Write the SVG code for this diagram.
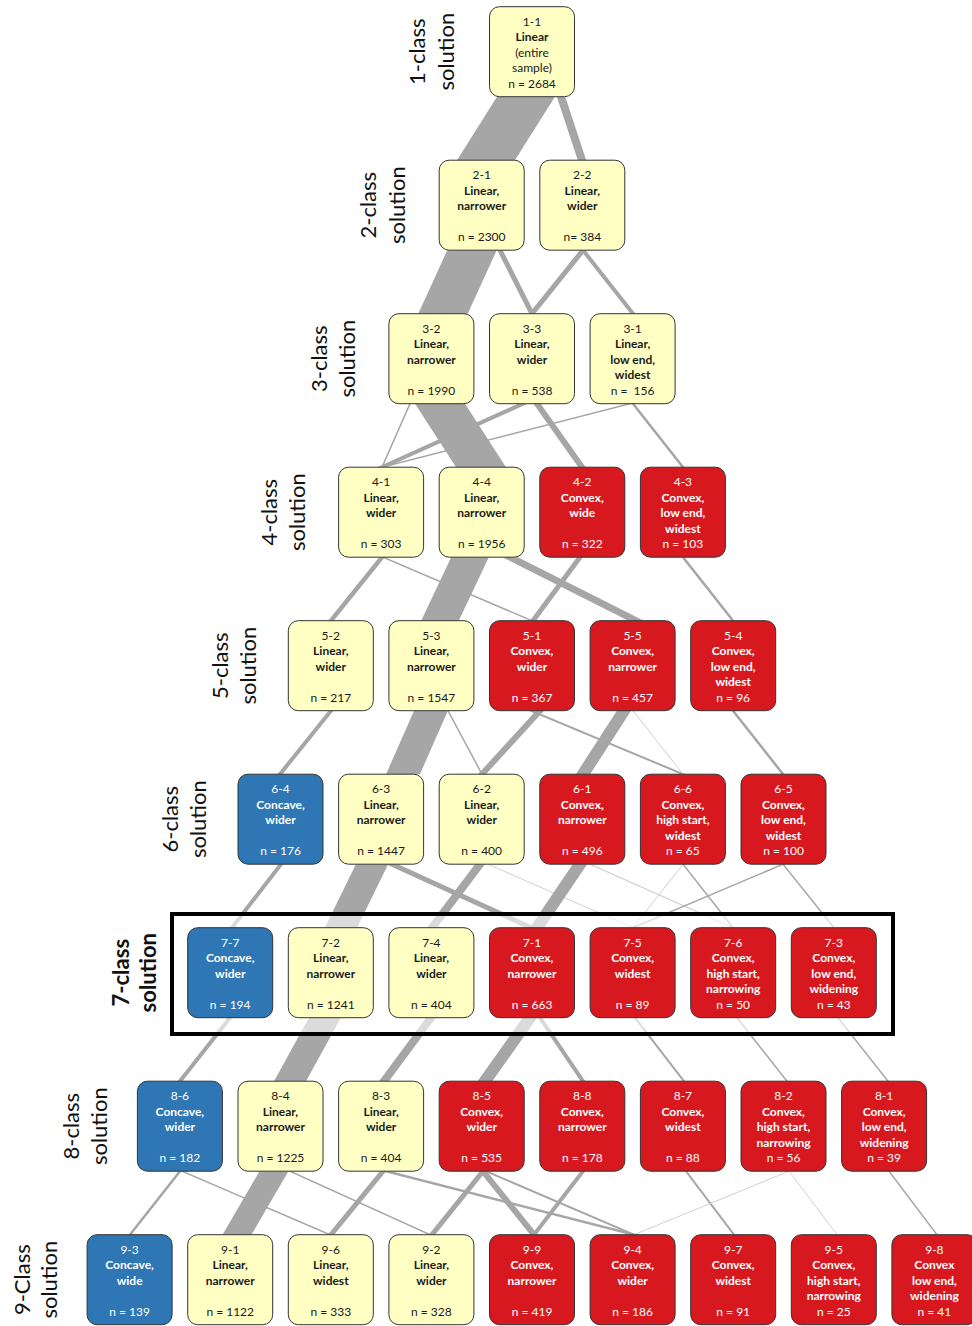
<svg xmlns="http://www.w3.org/2000/svg" width="972" height="1326" viewBox="0 0 972 1326">
<style>
.nd rect{stroke:#333;stroke-width:1}
.y rect{fill:#FFFFC3}.r rect{fill:#D7191F}.b rect{fill:#2E76B4}
text{font-family:Lato,"Liberation Sans",sans-serif;font-size:12px;text-anchor:middle}
.y text{fill:#1a1a1a}.r text,.b text{fill:#fff}
.bd{font-weight:bold}
.lbl{font-size:22px;fill:#111}
.c line{stroke:#A6A6A6}
.c line.lt{stroke:#D0D0D0}
</style>
<defs>
<clipPath id="g1"><rect x="0" y="96.7" width="972" height="63.5"/></clipPath>
<clipPath id="g2"><rect x="0" y="250.2" width="972" height="63.5"/></clipPath>
<clipPath id="g3"><rect x="0" y="403.7" width="972" height="63.5"/></clipPath>
<clipPath id="g4"><rect x="0" y="557.2" width="972" height="63.5"/></clipPath>
<clipPath id="g5"><rect x="0" y="710.7" width="972" height="63.5"/></clipPath>
<clipPath id="g6"><rect x="0" y="864.2" width="972" height="63.5"/></clipPath>
<clipPath id="g7"><rect x="0" y="1017.7" width="972" height="63.5"/></clipPath>
<clipPath id="g8"><rect x="0" y="1171.2" width="972" height="63.5"/></clipPath>
</defs>
<rect width="972" height="1326" fill="#fff"/>
<g id="connectors" class="c">
<g clip-path="url(#g1)">
<line x1="538.6" y1="76.7" x2="473.4" y2="180.2" stroke-width="49"/>
<line x1="554.4" y1="76.7" x2="588.6" y2="180.2" stroke-width="8"/>
</g>
<g clip-path="url(#g2)">
<line x1="481.1" y1="230.2" x2="433.9" y2="333.7" stroke-width="45"/>
<line x1="489.9" y1="230.2" x2="542.1" y2="333.7" stroke-width="5"/>
<line x1="599.1" y1="230.2" x2="515.9" y2="333.7" stroke-width="5"/>
<line x1="567.25" y1="230.2" x2="648.75" y2="333.7" stroke-width="4"/>
</g>
<g clip-path="url(#g3)">
<line x1="427.1" y1="383.7" x2="493.9" y2="487.2" stroke-width="42"/>
<line x1="418.8" y1="383.7" x2="373.2" y2="487.2" stroke-width="1.5"/>
<line x1="567.4" y1="383.7" x2="337.6" y2="487.2" stroke-width="4"/>
<line x1="708.1" y1="383.7" x2="303.9" y2="487.2" stroke-width="1.5"/>
<line x1="522.8" y1="383.7" x2="596.2" y2="487.2" stroke-width="6"/>
<line x1="617.25" y1="383.7" x2="698.75" y2="487.2" stroke-width="2.5"/>
</g>
<g clip-path="url(#g4)">
<line x1="398.1" y1="537.2" x2="314.9" y2="640.7" stroke-width="4.5"/>
<line x1="336.1" y1="537.2" x2="578.9" y2="640.7" stroke-width="1.5"/>
<line x1="479.45" y1="537.2" x2="430.55" y2="640.7" stroke-width="34"/>
<line x1="470.3" y1="537.2" x2="675.7" y2="640.7" stroke-width="7"/>
<line x1="594.8" y1="537.2" x2="518.2" y2="640.7" stroke-width="5"/>
<line x1="667.25" y1="537.2" x2="748.75" y2="640.7" stroke-width="2.5"/>
</g>
<g clip-path="url(#g5)">
<line x1="347.1" y1="690.7" x2="263.9" y2="794.2" stroke-width="4"/>
<line x1="439.8" y1="690.7" x2="394.2" y2="794.2" stroke-width="31"/>
<line x1="437.3" y1="690.7" x2="492.7" y2="794.2" stroke-width="1.5"/>
<line x1="558.3" y1="690.7" x2="463.7" y2="794.2" stroke-width="6"/>
<line x1="483.1" y1="690.7" x2="730.9" y2="794.2" stroke-width="2"/>
<line x1="636.9" y1="690.7" x2="570.1" y2="794.2" stroke-width="12"/>
<line class="lt" x1="617.25" y1="690.7" x2="698.75" y2="794.2" stroke-width="1"/>
<line x1="717.25" y1="690.7" x2="798.75" y2="794.2" stroke-width="2.5"/>
</g>
<g clip-path="url(#g6)">
<line x1="296.4" y1="844.2" x2="216.6" y2="947.7" stroke-width="4"/>
<line x1="381.8" y1="844.2" x2="331.2" y2="947.7" stroke-width="29"/>
<line x1="348.2" y1="844.2" x2="574.8" y2="947.7" stroke-width="5"/>
<line x1="495.1" y1="844.2" x2="416.9" y2="947.7" stroke-width="8"/>
<line class="lt" x1="442.3" y1="844.2" x2="678.7" y2="947.7" stroke-width="1"/>
<line x1="593.5" y1="844.2" x2="523.5" y2="947.7" stroke-width="12"/>
<line class="lt" x1="545" y1="844.2" x2="778" y2="947.7" stroke-width="1.2"/>
<line class="lt" x1="698.75" y1="844.2" x2="617.25" y2="947.7" stroke-width="1"/>
<line x1="667.25" y1="844.2" x2="748.75" y2="947.7" stroke-width="1.5"/>
<line x1="830.2" y1="844.2" x2="585.8" y2="947.7" stroke-width="1.5"/>
<line x1="766.9" y1="844.2" x2="850.1" y2="947.7" stroke-width="1.5"/>
</g>
<g clip-path="url(#g7)">
<line x1="245.75" y1="997.7" x2="164.25" y2="1101.2" stroke-width="4"/>
<line x1="336" y1="997.7" x2="279" y2="1101.2" stroke-width="28"/>
<line x1="445.8" y1="997.7" x2="369.2" y2="1101.2" stroke-width="8"/>
<line x1="544.2" y1="997.7" x2="470.8" y2="1101.2" stroke-width="12"/>
<line x1="526.5" y1="997.7" x2="596.5" y2="1101.2" stroke-width="4"/>
<line x1="619.6" y1="997.7" x2="699.4" y2="1101.2" stroke-width="2"/>
<line x1="721.25" y1="997.7" x2="802.75" y2="1101.2" stroke-width="1.5"/>
<line x1="822.25" y1="997.7" x2="903.75" y2="1101.2" stroke-width="1.5"/>
</g>
<g clip-path="url(#g8)">
<line x1="195.75" y1="1151.2" x2="114.25" y2="1254.7" stroke-width="2.5"/>
<line x1="135.4" y1="1151.2" x2="376.6" y2="1254.7" stroke-width="1.5"/>
<line x1="285.65" y1="1151.2" x2="225.35" y2="1254.7" stroke-width="25"/>
<line x1="245.9" y1="1151.2" x2="474.1" y2="1254.7" stroke-width="1.5"/>
<line x1="399.4" y1="1151.2" x2="314.6" y2="1254.7" stroke-width="5"/>
<line x1="307.9" y1="1151.2" x2="712.1" y2="1254.7" stroke-width="2.5"/>
<line x1="499.1" y1="1151.2" x2="415.9" y2="1254.7" stroke-width="5"/>
<line x1="466.9" y1="1151.2" x2="550.1" y2="1254.7" stroke-width="6"/>
<line x1="439.4" y1="1151.2" x2="680.6" y2="1254.7" stroke-width="2"/>
<line x1="598.4" y1="1151.2" x2="518.6" y2="1254.7" stroke-width="4"/>
<line x1="670.9" y1="1151.2" x2="749.1" y2="1254.7" stroke-width="2"/>
<line class="lt" x1="837.8" y1="1151.2" x2="585.2" y2="1254.7" stroke-width="1"/>
<line class="lt" x1="773.9" y1="1151.2" x2="852.1" y2="1254.7" stroke-width="1"/>
<line x1="873.9" y1="1151.2" x2="952.1" y2="1254.7" stroke-width="1.5"/>
</g>
</g>
<rect id="highlight-7-class" x="172" y="914" width="721" height="120" fill="#fff" fill-opacity="0.6" stroke="#000" stroke-width="4"/>
<g id="row-labels" class="lbl">
<text class="lbl" transform="rotate(-90 425.5 51.7)" x="425.5" y="51.7">1-class</text>
<text class="lbl" transform="rotate(-90 454.5 51.7)" x="454.5" y="51.7">solution</text>
<text class="lbl" transform="rotate(-90 376.1 205.2)" x="376.1" y="205.2">2-class</text>
<text class="lbl" transform="rotate(-90 404.8 205.2)" x="404.8" y="205.2">solution</text>
<text class="lbl" transform="rotate(-90 326.6 358.7)" x="326.6" y="358.7">3-class</text>
<text class="lbl" transform="rotate(-90 355.1 358.7)" x="355.1" y="358.7">solution</text>
<text class="lbl" transform="rotate(-90 277.2 512.2)" x="277.2" y="512.2">4-class</text>
<text class="lbl" transform="rotate(-90 305.5 512.2)" x="305.5" y="512.2">solution</text>
<text class="lbl" transform="rotate(-90 227.8 665.7)" x="227.8" y="665.7">5-class</text>
<text class="lbl" transform="rotate(-90 255.8 665.7)" x="255.8" y="665.7">solution</text>
<text class="lbl" transform="rotate(-90 178.4 819.2)" x="178.4" y="819.2">6-class</text>
<text class="lbl" transform="rotate(-90 206.1 819.2)" x="206.1" y="819.2">solution</text>
<text class="lbl bd" transform="rotate(-90 129 972.7)" x="129" y="972.7">7-class</text>
<text class="lbl bd" transform="rotate(-90 156.5 972.7)" x="156.5" y="972.7">solution</text>
<text class="lbl" transform="rotate(-90 79.5 1126.2)" x="79.5" y="1126.2">8-class</text>
<text class="lbl" transform="rotate(-90 106.8 1126.2)" x="106.8" y="1126.2">solution</text>
<text class="lbl" transform="rotate(-90 30.1 1279.7)" x="30.1" y="1279.7">9-Class</text>
<text class="lbl" transform="rotate(-90 57.1 1279.7)" x="57.1" y="1279.7">solution</text>
</g>
<!-- row 1 -->
<g id="node-1-1" class="nd y"><rect x="489.5" y="6.7" width="85" height="90" rx="10"/><text x="532" y="25.7">1-1<tspan x="532" dy="15.5" class="bd">Linear</tspan><tspan x="532" dy="15.5">(entire</tspan><tspan x="532" dy="15.5">sample)</tspan><tspan x="532" dy="15.5">n = 2684</tspan></text></g>
<!-- row 2 -->
<g id="node-2-1" class="nd y"><rect x="439.2" y="160.2" width="85" height="90" rx="10"/><text x="481.7" y="179.2">2-1<tspan x="481.7" dy="15.5" class="bd">Linear,</tspan><tspan x="481.7" dy="15.5" class="bd">narrower</tspan><tspan x="481.7" dy="31">n = 2300</tspan></text></g>
<g id="node-2-2" class="nd y"><rect x="539.8" y="160.2" width="85" height="90" rx="10"/><text x="582.3" y="179.2">2-2<tspan x="582.3" dy="15.5" class="bd">Linear,</tspan><tspan x="582.3" dy="15.5" class="bd">wider</tspan><tspan x="582.3" dy="31">n= 384</tspan></text></g>
<!-- row 3 -->
<g id="node-3-2" class="nd y"><rect x="388.9" y="313.7" width="85" height="90" rx="10"/><text x="431.4" y="332.7">3-2<tspan x="431.4" dy="15.5" class="bd">Linear,</tspan><tspan x="431.4" dy="15.5" class="bd">narrower</tspan><tspan x="431.4" dy="31">n = 1990</tspan></text></g>
<g id="node-3-3" class="nd y"><rect x="489.5" y="313.7" width="85" height="90" rx="10"/><text x="532" y="332.7">3-3<tspan x="532" dy="15.5" class="bd">Linear,</tspan><tspan x="532" dy="15.5" class="bd">wider</tspan><tspan x="532" dy="31">n = 538</tspan></text></g>
<g id="node-3-1" class="nd y"><rect x="590.1" y="313.7" width="85" height="90" rx="10"/><text x="632.6" y="332.7">3-1<tspan x="632.6" dy="15.5" class="bd">Linear,</tspan><tspan x="632.6" dy="15.5" class="bd">low end,</tspan><tspan x="632.6" dy="15.5" class="bd">widest</tspan><tspan x="632.6" dy="15.5" style="white-space:pre">n =  156</tspan></text></g>
<!-- row 4 -->
<g id="node-4-1" class="nd y"><rect x="338.6" y="467.2" width="85" height="90" rx="10"/><text x="381.1" y="486.2">4-1<tspan x="381.1" dy="15.5" class="bd">Linear,</tspan><tspan x="381.1" dy="15.5" class="bd">wider</tspan><tspan x="381.1" dy="31">n = 303</tspan></text></g>
<g id="node-4-4" class="nd y"><rect x="439.2" y="467.2" width="85" height="90" rx="10"/><text x="481.7" y="486.2">4-4<tspan x="481.7" dy="15.5" class="bd">Linear,</tspan><tspan x="481.7" dy="15.5" class="bd">narrower</tspan><tspan x="481.7" dy="31">n = 1956</tspan></text></g>
<g id="node-4-2" class="nd r"><rect x="539.8" y="467.2" width="85" height="90" rx="10"/><text x="582.3" y="486.2">4-2<tspan x="582.3" dy="15.5" class="bd">Convex,</tspan><tspan x="582.3" dy="15.5" class="bd">wide</tspan><tspan x="582.3" dy="31">n = 322</tspan></text></g>
<g id="node-4-3" class="nd r"><rect x="640.4" y="467.2" width="85" height="90" rx="10"/><text x="682.9" y="486.2">4-3<tspan x="682.9" dy="15.5" class="bd">Convex,</tspan><tspan x="682.9" dy="15.5" class="bd">low end,</tspan><tspan x="682.9" dy="15.5" class="bd">widest</tspan><tspan x="682.9" dy="15.5">n = 103</tspan></text></g>
<!-- row 5 -->
<g id="node-5-2" class="nd y"><rect x="288.3" y="620.7" width="85" height="90" rx="10"/><text x="330.8" y="639.7">5-2<tspan x="330.8" dy="15.5" class="bd">Linear,</tspan><tspan x="330.8" dy="15.5" class="bd">wider</tspan><tspan x="330.8" dy="31">n = 217</tspan></text></g>
<g id="node-5-3" class="nd y"><rect x="388.9" y="620.7" width="85" height="90" rx="10"/><text x="431.4" y="639.7">5-3<tspan x="431.4" dy="15.5" class="bd">Linear,</tspan><tspan x="431.4" dy="15.5" class="bd">narrower</tspan><tspan x="431.4" dy="31">n = 1547</tspan></text></g>
<g id="node-5-1" class="nd r"><rect x="489.5" y="620.7" width="85" height="90" rx="10"/><text x="532" y="639.7">5-1<tspan x="532" dy="15.5" class="bd">Convex,</tspan><tspan x="532" dy="15.5" class="bd">wider</tspan><tspan x="532" dy="31">n = 367</tspan></text></g>
<g id="node-5-5" class="nd r"><rect x="590.1" y="620.7" width="85" height="90" rx="10"/><text x="632.6" y="639.7">5-5<tspan x="632.6" dy="15.5" class="bd">Convex,</tspan><tspan x="632.6" dy="15.5" class="bd">narrower</tspan><tspan x="632.6" dy="31">n = 457</tspan></text></g>
<g id="node-5-4" class="nd r"><rect x="690.7" y="620.7" width="85" height="90" rx="10"/><text x="733.2" y="639.7">5-4<tspan x="733.2" dy="15.5" class="bd">Convex,</tspan><tspan x="733.2" dy="15.5" class="bd">low end,</tspan><tspan x="733.2" dy="15.5" class="bd">widest</tspan><tspan x="733.2" dy="15.5">n = 96</tspan></text></g>
<!-- row 6 -->
<g id="node-6-4" class="nd b"><rect x="238" y="774.2" width="85" height="90" rx="10"/><text x="280.5" y="793.2">6-4<tspan x="280.5" dy="15.5" class="bd">Concave,</tspan><tspan x="280.5" dy="15.5" class="bd">wider</tspan><tspan x="280.5" dy="31">n = 176</tspan></text></g>
<g id="node-6-3" class="nd y"><rect x="338.6" y="774.2" width="85" height="90" rx="10"/><text x="381.1" y="793.2">6-3<tspan x="381.1" dy="15.5" class="bd">Linear,</tspan><tspan x="381.1" dy="15.5" class="bd">narrower</tspan><tspan x="381.1" dy="31">n = 1447</tspan></text></g>
<g id="node-6-2" class="nd y"><rect x="439.2" y="774.2" width="85" height="90" rx="10"/><text x="481.7" y="793.2">6-2<tspan x="481.7" dy="15.5" class="bd">Linear,</tspan><tspan x="481.7" dy="15.5" class="bd">wider</tspan><tspan x="481.7" dy="31">n = 400</tspan></text></g>
<g id="node-6-1" class="nd r"><rect x="539.8" y="774.2" width="85" height="90" rx="10"/><text x="582.3" y="793.2">6-1<tspan x="582.3" dy="15.5" class="bd">Convex,</tspan><tspan x="582.3" dy="15.5" class="bd">narrower</tspan><tspan x="582.3" dy="31">n = 496</tspan></text></g>
<g id="node-6-6" class="nd r"><rect x="640.4" y="774.2" width="85" height="90" rx="10"/><text x="682.9" y="793.2">6-6<tspan x="682.9" dy="15.5" class="bd">Convex,</tspan><tspan x="682.9" dy="15.5" class="bd">high start,</tspan><tspan x="682.9" dy="15.5" class="bd">widest</tspan><tspan x="682.9" dy="15.5">n = 65</tspan></text></g>
<g id="node-6-5" class="nd r"><rect x="741" y="774.2" width="85" height="90" rx="10"/><text x="783.5" y="793.2">6-5<tspan x="783.5" dy="15.5" class="bd">Convex,</tspan><tspan x="783.5" dy="15.5" class="bd">low end,</tspan><tspan x="783.5" dy="15.5" class="bd">widest</tspan><tspan x="783.5" dy="15.5">n = 100</tspan></text></g>
<!-- row 7 -->
<g id="node-7-7" class="nd b"><rect x="187.7" y="927.7" width="85" height="90" rx="10"/><text x="230.2" y="946.7">7-7<tspan x="230.2" dy="15.5" class="bd">Concave,</tspan><tspan x="230.2" dy="15.5" class="bd">wider</tspan><tspan x="230.2" dy="31">n = 194</tspan></text></g>
<g id="node-7-2" class="nd y"><rect x="288.3" y="927.7" width="85" height="90" rx="10"/><text x="330.8" y="946.7">7-2<tspan x="330.8" dy="15.5" class="bd">Linear,</tspan><tspan x="330.8" dy="15.5" class="bd">narrower</tspan><tspan x="330.8" dy="31">n = 1241</tspan></text></g>
<g id="node-7-4" class="nd y"><rect x="388.9" y="927.7" width="85" height="90" rx="10"/><text x="431.4" y="946.7">7-4<tspan x="431.4" dy="15.5" class="bd">Linear,</tspan><tspan x="431.4" dy="15.5" class="bd">wider</tspan><tspan x="431.4" dy="31">n = 404</tspan></text></g>
<g id="node-7-1" class="nd r"><rect x="489.5" y="927.7" width="85" height="90" rx="10"/><text x="532" y="946.7">7-1<tspan x="532" dy="15.5" class="bd">Convex,</tspan><tspan x="532" dy="15.5" class="bd">narrower</tspan><tspan x="532" dy="31">n = 663</tspan></text></g>
<g id="node-7-5" class="nd r"><rect x="590.1" y="927.7" width="85" height="90" rx="10"/><text x="632.6" y="946.7">7-5<tspan x="632.6" dy="15.5" class="bd">Convex,</tspan><tspan x="632.6" dy="15.5" class="bd">widest</tspan><tspan x="632.6" dy="31">n = 89</tspan></text></g>
<g id="node-7-6" class="nd r"><rect x="690.7" y="927.7" width="85" height="90" rx="10"/><text x="733.2" y="946.7">7-6<tspan x="733.2" dy="15.5" class="bd">Convex,</tspan><tspan x="733.2" dy="15.5" class="bd">high start,</tspan><tspan x="733.2" dy="15.5" class="bd">narrowing</tspan><tspan x="733.2" dy="15.5">n = 50</tspan></text></g>
<g id="node-7-3" class="nd r"><rect x="791.3" y="927.7" width="85" height="90" rx="10"/><text x="833.8" y="946.7">7-3<tspan x="833.8" dy="15.5" class="bd">Convex,</tspan><tspan x="833.8" dy="15.5" class="bd">low end,</tspan><tspan x="833.8" dy="15.5" class="bd">widening</tspan><tspan x="833.8" dy="15.5">n = 43</tspan></text></g>
<!-- row 8 -->
<g id="node-8-6" class="nd b"><rect x="137.4" y="1081.2" width="85" height="90" rx="10"/><text x="179.9" y="1100.2">8-6<tspan x="179.9" dy="15.5" class="bd">Concave,</tspan><tspan x="179.9" dy="15.5" class="bd">wider</tspan><tspan x="179.9" dy="31">n = 182</tspan></text></g>
<g id="node-8-4" class="nd y"><rect x="238" y="1081.2" width="85" height="90" rx="10"/><text x="280.5" y="1100.2">8-4<tspan x="280.5" dy="15.5" class="bd">Linear,</tspan><tspan x="280.5" dy="15.5" class="bd">narrower</tspan><tspan x="280.5" dy="31">n = 1225</tspan></text></g>
<g id="node-8-3" class="nd y"><rect x="338.6" y="1081.2" width="85" height="90" rx="10"/><text x="381.1" y="1100.2">8-3<tspan x="381.1" dy="15.5" class="bd">Linear,</tspan><tspan x="381.1" dy="15.5" class="bd">wider</tspan><tspan x="381.1" dy="31">n = 404</tspan></text></g>
<g id="node-8-5" class="nd r"><rect x="439.2" y="1081.2" width="85" height="90" rx="10"/><text x="481.7" y="1100.2">8-5<tspan x="481.7" dy="15.5" class="bd">Convex,</tspan><tspan x="481.7" dy="15.5" class="bd">wider</tspan><tspan x="481.7" dy="31">n = 535</tspan></text></g>
<g id="node-8-8" class="nd r"><rect x="539.8" y="1081.2" width="85" height="90" rx="10"/><text x="582.3" y="1100.2">8-8<tspan x="582.3" dy="15.5" class="bd">Convex,</tspan><tspan x="582.3" dy="15.5" class="bd">narrower</tspan><tspan x="582.3" dy="31">n = 178</tspan></text></g>
<g id="node-8-7" class="nd r"><rect x="640.4" y="1081.2" width="85" height="90" rx="10"/><text x="682.9" y="1100.2">8-7<tspan x="682.9" dy="15.5" class="bd">Convex,</tspan><tspan x="682.9" dy="15.5" class="bd">widest</tspan><tspan x="682.9" dy="31">n = 88</tspan></text></g>
<g id="node-8-2" class="nd r"><rect x="741" y="1081.2" width="85" height="90" rx="10"/><text x="783.5" y="1100.2">8-2<tspan x="783.5" dy="15.5" class="bd">Convex,</tspan><tspan x="783.5" dy="15.5" class="bd">high start,</tspan><tspan x="783.5" dy="15.5" class="bd">narrowing</tspan><tspan x="783.5" dy="15.5">n = 56</tspan></text></g>
<g id="node-8-1" class="nd r"><rect x="841.6" y="1081.2" width="85" height="90" rx="10"/><text x="884.1" y="1100.2">8-1<tspan x="884.1" dy="15.5" class="bd">Convex,</tspan><tspan x="884.1" dy="15.5" class="bd">low end,</tspan><tspan x="884.1" dy="15.5" class="bd">widening</tspan><tspan x="884.1" dy="15.5">n = 39</tspan></text></g>
<!-- row 9 -->
<g id="node-9-3" class="nd b"><rect x="87.1" y="1234.7" width="85" height="90" rx="10"/><text x="129.6" y="1253.7">9-3<tspan x="129.6" dy="15.5" class="bd">Concave,</tspan><tspan x="129.6" dy="15.5" class="bd">wide</tspan><tspan x="129.6" dy="31">n = 139</tspan></text></g>
<g id="node-9-1" class="nd y"><rect x="187.7" y="1234.7" width="85" height="90" rx="10"/><text x="230.2" y="1253.7">9-1<tspan x="230.2" dy="15.5" class="bd">Linear,</tspan><tspan x="230.2" dy="15.5" class="bd">narrower</tspan><tspan x="230.2" dy="31">n = 1122</tspan></text></g>
<g id="node-9-6" class="nd y"><rect x="288.3" y="1234.7" width="85" height="90" rx="10"/><text x="330.8" y="1253.7">9-6<tspan x="330.8" dy="15.5" class="bd">Linear,</tspan><tspan x="330.8" dy="15.5" class="bd">widest</tspan><tspan x="330.8" dy="31">n = 333</tspan></text></g>
<g id="node-9-2" class="nd y"><rect x="388.9" y="1234.7" width="85" height="90" rx="10"/><text x="431.4" y="1253.7">9-2<tspan x="431.4" dy="15.5" class="bd">Linear,</tspan><tspan x="431.4" dy="15.5" class="bd">wider</tspan><tspan x="431.4" dy="31">n = 328</tspan></text></g>
<g id="node-9-9" class="nd r"><rect x="489.5" y="1234.7" width="85" height="90" rx="10"/><text x="532" y="1253.7">9-9<tspan x="532" dy="15.5" class="bd">Convex,</tspan><tspan x="532" dy="15.5" class="bd">narrower</tspan><tspan x="532" dy="31">n = 419</tspan></text></g>
<g id="node-9-4" class="nd r"><rect x="590.1" y="1234.7" width="85" height="90" rx="10"/><text x="632.6" y="1253.7">9-4<tspan x="632.6" dy="15.5" class="bd">Convex,</tspan><tspan x="632.6" dy="15.5" class="bd">wider</tspan><tspan x="632.6" dy="31">n = 186</tspan></text></g>
<g id="node-9-7" class="nd r"><rect x="690.7" y="1234.7" width="85" height="90" rx="10"/><text x="733.2" y="1253.7">9-7<tspan x="733.2" dy="15.5" class="bd">Convex,</tspan><tspan x="733.2" dy="15.5" class="bd">widest</tspan><tspan x="733.2" dy="31">n = 91</tspan></text></g>
<g id="node-9-5" class="nd r"><rect x="791.3" y="1234.7" width="85" height="90" rx="10"/><text x="833.8" y="1253.7">9-5<tspan x="833.8" dy="15.5" class="bd">Convex,</tspan><tspan x="833.8" dy="15.5" class="bd">high start,</tspan><tspan x="833.8" dy="15.5" class="bd">narrowing</tspan><tspan x="833.8" dy="15.5">n = 25</tspan></text></g>
<g id="node-9-8" class="nd r"><rect x="891.9" y="1234.7" width="85" height="90" rx="10"/><text x="934.4" y="1253.7">9-8<tspan x="934.4" dy="15.5" class="bd">Convex</tspan><tspan x="934.4" dy="15.5" class="bd">low end,</tspan><tspan x="934.4" dy="15.5" class="bd">widening</tspan><tspan x="934.4" dy="15.5">n = 41</tspan></text></g>
</svg>
